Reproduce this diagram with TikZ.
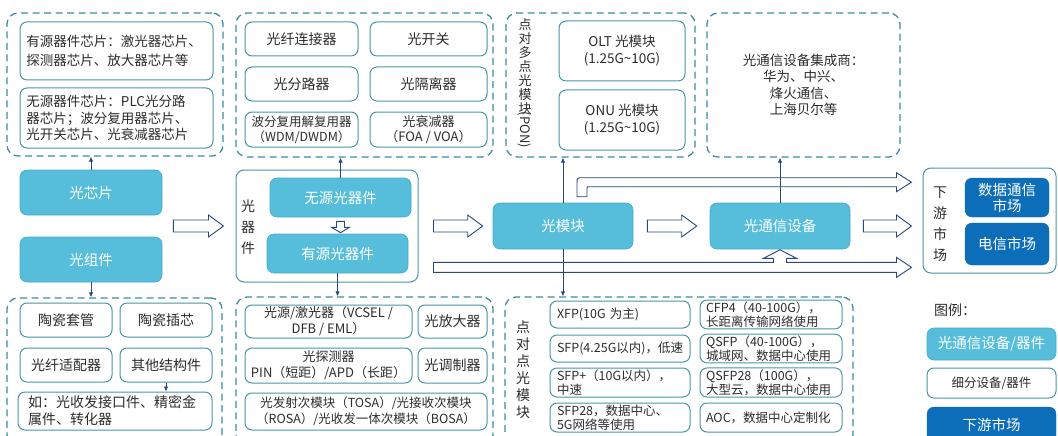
\documentclass[tikz,border=0pt]{standalone}
\usepackage{fontspec}
\setmainfont{Noto Sans CJK SC}
\usetikzlibrary{arrows.meta,calc}
\definecolor{lblue}{RGB}{86,190,219}
\definecolor{lbluedk}{RGB}{70,170,205}
\definecolor{tealb}{RGB}{72,150,165}
\definecolor{dashc}{RGB}{62,140,160}
\definecolor{dblue}{RGB}{12,110,185}
\definecolor{navy}{RGB}{40,72,125}
\definecolor{txt}{RGB}{45,45,45}
\newcommand\bx[7]{\node[#1,minimum width=#5pt-#3pt,minimum height=#6pt-#4pt] (#2) at ({(#3+#5)/2},{(#4+#6)/2}) {#7};}
\newcommand\hollowR[2]{%
  \draw[harrow] let \p1=#1, \p2=#2 in
    (\x1,{\y1+6pt}) -- ({\x2-15pt},{\y1+6pt}) -- ({\x2-15pt},{\y1+11pt}) -- (\x2,\y1)
    -- ({\x2-15pt},{\y1-11pt}) -- ({\x2-15pt},{\y1-6pt}) -- (\x1,{\y1-6pt}) -- cycle;}
\begin{document}
\begin{tikzpicture}[x=1pt,y=-1pt,
  grp/.style={draw=dashc,line width=1.3pt,dash pattern=on 7pt off 4.5pt,rounded corners=11pt,inner sep=0pt,text=txt,align=center,font=\fontsize{13.5}{16.5}\selectfont},
  det/.style={draw=tealb,line width=1pt,fill=white,rounded corners=7pt,text=txt,inner sep=1.5pt,align=center,font=\fontsize{14}{17}\selectfont},
  sdet/.style={det,font=\fontsize{12.5}{14}\selectfont,align=left,text width=126pt},
  fil/.style={draw=lbluedk,line width=0.6pt,fill=lblue,rounded corners=7pt,text=white,font=\fontsize{14.5}{17}\selectfont},
  mkt/.style={fill=dblue,draw=dblue,rounded corners=7pt,text=white,align=center,font=\fontsize{14.5}{17}\selectfont},
  cont/.style={draw=tealb,line width=1pt,fill=white,rounded corners=8pt},
  vtxt/.style={text=txt,align=center,inner sep=0pt},
  harrow/.style={draw=navy,line width=0.9pt,fill=white,line join=miter},
  tarrow/.style={draw=navy,line width=0.8pt,-{Latex[length=5pt,width=4.5pt]}},
]
\useasboundingbox (0,0) rectangle (1058,436);
\clip (0,0) rectangle (1058,436);

% ---------- top groups ----------
\bx{grp}{g1}{7}{13}{223}{156}{}
\bx{det,align=left,text width=180pt,font=\fontsize{13.5}{18.5}\selectfont}{a1}{20}{22}{213}{80}{有源器件芯片：激光器芯片、\\探测器芯片、放大器芯片等}
\bx{det,align=left,text width=180pt,font=\fontsize{13.5}{16.5}\selectfont}{a2}{20}{88}{213}{148}{无源器件芯片：PLC光分路\\器芯片；波分复用器芯片、\\光开关芯片、光衰减器芯片}

\bx{grp}{g2}{236}{13}{493}{157}{}
\bx{det}{b1}{245}{22}{358}{56}{光纤连接器}
\bx{det}{b2}{370}{22}{487}{56}{光开关}
\bx{det}{b3}{245}{67}{358}{101}{光分路器}
\bx{det}{b4}{370}{67}{487}{101}{光隔离器}
\bx{det,font=\fontsize{12.5}{15}\selectfont}{b5}{245}{112}{358}{147}{波分复用解复用器\\（WDM/DWDM）}
\bx{det,font=\fontsize{13}{15.5}\selectfont}{b6}{370}{112}{487}{147}{光衰减器\\（FOA / VOA）}

\bx{grp}{g3}{506}{13}{695}{157}{}
\node[vtxt,font=\fontsize{13}{14}\selectfont] (pv1) at (525,66.5) {点\\对\\多\\点\\光\\模\\块};
\node[vtxt,rotate=-90,font=\fontsize{13}{14}\selectfont] (pv2) at (525,130) {(PON)};
\bx{det,font=\fontsize{13.5}{17}\selectfont}{c1}{559}{21}{685}{81}{OLT 光模块\\(1.25G\textasciitilde10G)}
\bx{det,font=\fontsize{13.5}{17}\selectfont}{c2}{559}{90}{685}{150}{ONU 光模块\\(1.25G\textasciitilde10G)}

\bx{grp}{g4}{707}{13}{900}{157}{光通信设备集成商：\\华为、中兴、\\烽火通信、\\上海贝尔等}

% ---------- middle row ----------
\bx{fil}{xp}{20}{170}{162}{215}{光芯片}
\bx{fil}{zj}{20}{237}{162}{282}{光组件}
\bx{cont}{qj}{236}{170}{418}{282}{}
\node[vtxt,font=\fontsize{14}{21}\selectfont] (qjl) at (248,227) {光\\器\\件};
\bx{fil}{wy}{270}{178}{411}{217}{无源光器件}
\bx{fil}{yy}{267}{234}{408}{273}{有源光器件}
\bx{fil}{gm}{493}{203}{633}{249}{光模块}
\bx{fil}{sb}{710}{203}{850}{249}{光通信设备}
\bx{cont}{xy}{923}{168}{1056}{273}{}
\node[vtxt,font=\fontsize{14}{21}\selectfont] (xyl) at (940,224) {下\\游\\市\\场};
\bx{mkt,font=\fontsize{14.5}{16}\selectfont}{m1}{965}{178}{1049}{217}{数据通信\\市场}
\bx{mkt}{m2}{965}{223}{1049}{265}{电信市场}

% ---------- bottom groups ----------
\bx{grp}{g5}{7}{298}{222}{446}{}
\bx{det}{d1}{20}{303}{112}{337}{陶瓷套管}
\bx{det}{d2}{120}{303}{212}{337}{陶瓷插芯}
\bx{det}{d3}{20}{348}{112}{382}{光纤适配器}
\bx{det}{d4}{120}{348}{212}{382}{其他结构件}
\bx{det,align=left,text width=174pt,font=\fontsize{14}{17}\selectfont}{d5}{18}{392}{212}{430}{如：光收发接口件、精密金\\属件、转化器}

\bx{grp}{g6}{236}{297}{493}{446}{}
\bx{det,font=\fontsize{13}{16}\selectfont}{e1}{245}{305}{412}{338}{光源/激光器（VCSEL /\\DFB / EML）}
\bx{det}{e2}{418}{305}{487}{338}{光放大器}
\bx{det,font=\fontsize{13}{16}\selectfont}{e3}{245}{348}{412}{383}{光探测器\\PIN（短距）/APD（长距）}
\bx{det}{e4}{418}{348}{487}{383}{光调制器}
\bx{det,font=\fontsize{12.5}{16}\selectfont}{e5}{245}{393}{487}{430}{光发射次模块（TOSA）/光接收次模块\\（ROSA）/光收发一体次模块（BOSA）}

\bx{grp}{g7}{505}{297}{853}{446}{}
\node[vtxt,font=\fontsize{14}{17}\selectfont] (pp) at (523,370) {点\\对\\点\\光\\模\\块};
\bx{sdet}{f1}{550}{301}{690}{328}{XFP(10G 为主)}
\bx{sdet}{f2}{550}{335}{690}{362}{SFP(4.25G以内)，低速}
\bx{sdet}{f3}{550}{368}{690}{397}{SFP+（10G以内），\\中速}
\bx{sdet}{f4}{550}{403}{690}{432}{SFP28，数据中心、\\5G网络等使用}
\bx{sdet,text width=130pt}{h1}{700}{301}{842}{328}{CFP4（40-100G），\\长距离传输网络使用}
\bx{sdet,text width=130pt}{h2}{700}{335}{842}{362}{QSFP（40-100G），\\城域网、数据中心使用}
\bx{sdet,text width=130pt}{h3}{700}{368}{842}{397}{QSFP28（100G），\\大型云，数据中心使用}
\bx{sdet,text width=130pt}{h4}{700}{403}{842}{432}{AOC，数据中心定制化}

% ---------- legend ----------
\node[anchor=west,text=txt,inner sep=0pt,font=\fontsize{14}{17}\selectfont] (lg) at (934,310) {图例：};
\bx{fil}{L1}{927}{328}{1056}{360}{光通信设备/器件}
\bx{det,font=\fontsize{12.5}{15}\selectfont}{L2}{927}{368}{1056}{398}{细分设备/器件}
\bx{mkt}{L3}{927}{407}{1056}{442}{下游市场}

% ---------- hollow arrows ----------
\hollowR{($(xp.east)!0.5!(zj.east)+(11,0)$)}{($(qj.west)+(-12,0)$)}
\hollowR{($(qj.east)+(15,0)$)}{($(gm.west)+(-10,0)$)}
\hollowR{($(gm.east)+(14,0)$)}{($(sb.west)+(-13,0)$)}
\hollowR{($(sb.east)+(13,0)$)}{($(xy.west)+(-11,0)$)}

\draw[harrow] let \p1=(wy.south), \p2=(yy.north) in
  ({\x1-4pt},{\y1-4pt}) -- ({\x1-4pt},{\y1-10pt}) -- ({\x1-9pt},{\y1-10pt}) -- (\x1,{\y2+1pt})
  -- ({\x1+9pt},{\y1-10pt}) -- ({\x1+4pt},{\y1-10pt}) -- ({\x1+4pt},{\y1-4pt}) -- cycle;

% bent arrow from the optical module to the market
\draw[harrow] let \p1=(gm.north), \p2=(xy.west) in
  ({\x1+14pt},{\y1+6pt}) -- ({\x1+14pt},{\y1+19pt}) .. controls ({\x1+14pt},{\y1+25pt}) .. ({\x1+20pt},{\y1+25pt})
  -- ({\x2-26pt},{\y1+25pt}) -- ({\x2-26pt},{\y1+30pt}) -- ({\x2-11pt},{\y1+20.5pt})
  -- ({\x2-26pt},{\y1+11pt}) -- ({\x2-26pt},{\y1+16pt}) -- ({\x1+26pt},{\y1+16pt})
  .. controls ({\x1+24pt},{\y1+16pt}) .. ({\x1+24pt},{\y1+14pt}) -- ({\x1+24pt},{\y1+6pt}) -- cycle;

% bottom band with branch up to the equipment
\draw[harrow] let \p1=(qj.east), \p2=(sb.south), \p3=(xy.west) in
  ({\x1+15pt},{\y2-13pt}) -- ({\x2-6.5pt},{\y2-13pt}) -- ({\x2-6.5pt},{\y2-9pt}) -- ({\x2-16.5pt},{\y2-9pt})
  -- (\x2,{\y2-0.5pt}) -- ({\x2+16.5pt},{\y2-9pt}) -- ({\x2+6.5pt},{\y2-9pt}) -- ({\x2+6.5pt},{\y2-13pt})
  -- ({\x3-26pt},{\y2-13pt}) -- ({\x3-26pt},{\y2-8pt}) -- ({\x3-11pt},{\y2-18pt})
  -- ({\x3-26pt},{\y2-28pt}) -- ({\x3-26pt},{\y2-23pt}) -- ({\x1+15pt},{\y2-23pt}) -- cycle;

% ---------- thin arrows ----------
\draw[tarrow] (xp.north) -- (xp.north |- g1.south);
\draw[tarrow] (zj.south) -- (zj.south |- g5.north);
\draw[tarrow] (wy.north) -- (wy.north |- g2.south);
\draw[tarrow] (yy.south) -- (yy.south |- g6.north);
\draw[tarrow] (gm.north) -- (gm.north |- g3.south);
\draw[tarrow] (gm.south) -- (gm.south |- g7.north);
\draw[tarrow] (sb.north) -- (sb.north |- g4.south);
\draw[tarrow] (d4.south) -- (d4.south |- d5.north);
\end{tikzpicture}
\end{document}
